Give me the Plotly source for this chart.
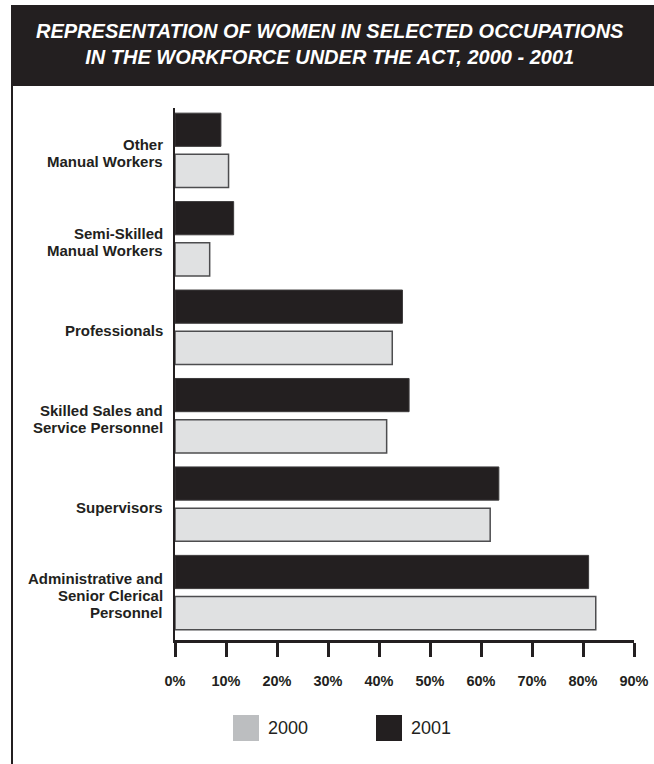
import plotly.graph_objects as go

# Occupation categories, listed bottom to top on the chart
categories = [
    "Administrative and<br>Senior Clerical<br>Personnel",
    "Supervisors",
    "Skilled Sales and<br>Service Personnel",
    "Professionals",
    "Semi-Skilled<br>Manual Workers",
    "Other<br>Manual Workers",
]
# Share of women (%) in each occupation
women_2000 = [82.5, 61.8, 41.5, 42.6, 6.8, 10.5]
women_2001 = [81.1, 63.5, 45.9, 44.6, 11.5, 9.0]
series_names = ["2000", "2001"]
x_ticks = [0, 10, 20, 30, 40, 50, 60, 70, 80, 90]
x_tick_labels = [f"{t}%" for t in x_ticks]

title_lines = [
    "REPRESENTATION OF WOMEN IN SELECTED OCCUPATIONS",
    "IN THE WORKFORCE UNDER THE ACT, 2000 - 2001",
]

INK = "#231f20"
FILL_2000 = "#e0e1e2"
EDGE_2000 = "#4d4d4f"
SWATCH_2000 = "#bcbec0"
FONT = "Liberation Sans, Arial, Helvetica, sans-serif"

W, H = 654, 764
ML, MR, MT, MB = 175, 20, 108, 124
PW, PH = W - ML - MR, H - MT - MB
LABEL_LINE_GAP = 17     # px between lines of a category label
LABEL_SIZE = 15


def px_x(x):
    """Pixel column -> paper x."""
    return (x - ML) / PW


def px_y(y):
    """Pixel row (from top) -> paper y."""
    return (H - MB - y) / PH


fig = go.Figure()
fig.add_trace(go.Bar(
    y=categories, x=women_2000, name=series_names[0], orientation="h",
    marker=dict(color=FILL_2000, line=dict(color=EDGE_2000, width=1.5)),
    showlegend=False,
))
fig.add_trace(go.Bar(
    y=categories, x=women_2001, name=series_names[1], orientation="h",
    marker=dict(color=INK, line=dict(color="#3c3a3b", width=1)),
    showlegend=False,
))

shapes = [
    # title banner
    dict(type="rect", xref="paper", yref="paper",
         x0=px_x(11), x1=px_x(660), y0=px_y(86), y1=px_y(5),
         fillcolor=INK, line=dict(width=0), layer="below"),
    # left frame rule
    dict(type="line", xref="paper", yref="paper",
         x0=px_x(12), x1=px_x(12), y0=px_y(86), y1=px_y(770),
         line=dict(color=INK, width=2)),
]

annotations = [
    dict(text="<b><i>" + "<br>".join(title_lines) + "</i></b>",
         xref="paper", yref="paper", x=px_x(330), y=px_y(44),
         xanchor="center", yanchor="middle", showarrow=False,
         font=dict(family=FONT, size=20, color="white")),
]

# category labels, one annotation per line so the line spacing stays tight
for cat in categories:
    lines = cat.split("<br>")
    n = len(lines)
    for i, line in enumerate(lines):
        annotations.append(dict(
            text=f"<b>{line}</b>", xref="paper", yref="y",
            x=px_x(164), y=cat, xanchor="right", yanchor="middle",
            yshift=((n - 1) / 2 - i) * LABEL_LINE_GAP - 3,
            showarrow=False, borderpad=0,
            font=dict(family=FONT, size=LABEL_SIZE, color=INK),
        ))

# legend: swatch + label for each series
legend_items = [(series_names[0], SWATCH_2000, 233), (series_names[1], INK, 376)]
for name, color, left in legend_items:
    shapes.append(dict(type="rect", xref="paper", yref="paper",
                       x0=px_x(left), x1=px_x(left + 26),
                       y0=px_y(741), y1=px_y(715),
                       fillcolor=color, line=dict(width=0)))
    annotations.append(dict(text=name, xref="paper", yref="paper",
                            x=px_x(left + 33), y=px_y(728),
                            xanchor="left", yanchor="middle", showarrow=False,
                            font=dict(family=FONT, size=18, color=INK)))

fig.update_layout(
    width=W, height=H,
    margin=dict(l=ML, r=MR, t=MT, b=MB, autoexpand=False),
    paper_bgcolor="white", plot_bgcolor="white",
    barmode="group", bargap=0.068, bargroupgap=0.194,
    font=dict(family=FONT, color=INK),
    shapes=shapes, annotations=annotations,
    xaxis=dict(
        range=[0, 90], tickvals=x_ticks, ticktext=x_tick_labels,
        showgrid=False, zeroline=False,
        showline=True, linecolor=INK, linewidth=2.5,
        ticks="outside", ticklen=14, tickwidth=2.5, tickcolor=INK,
        ticklabelstandoff=12,
        tickfont=dict(family=FONT, size=14.5, color=INK, weight="bold"),
        fixedrange=True,
    ),
    yaxis=dict(
        type="category", range=[-0.536, 5.479],
        showgrid=False, zeroline=False,
        showline=True, linecolor=INK, linewidth=2,
        ticks="", showticklabels=False,
        fixedrange=True,
    ),
)

fig.write_html("out.html")
